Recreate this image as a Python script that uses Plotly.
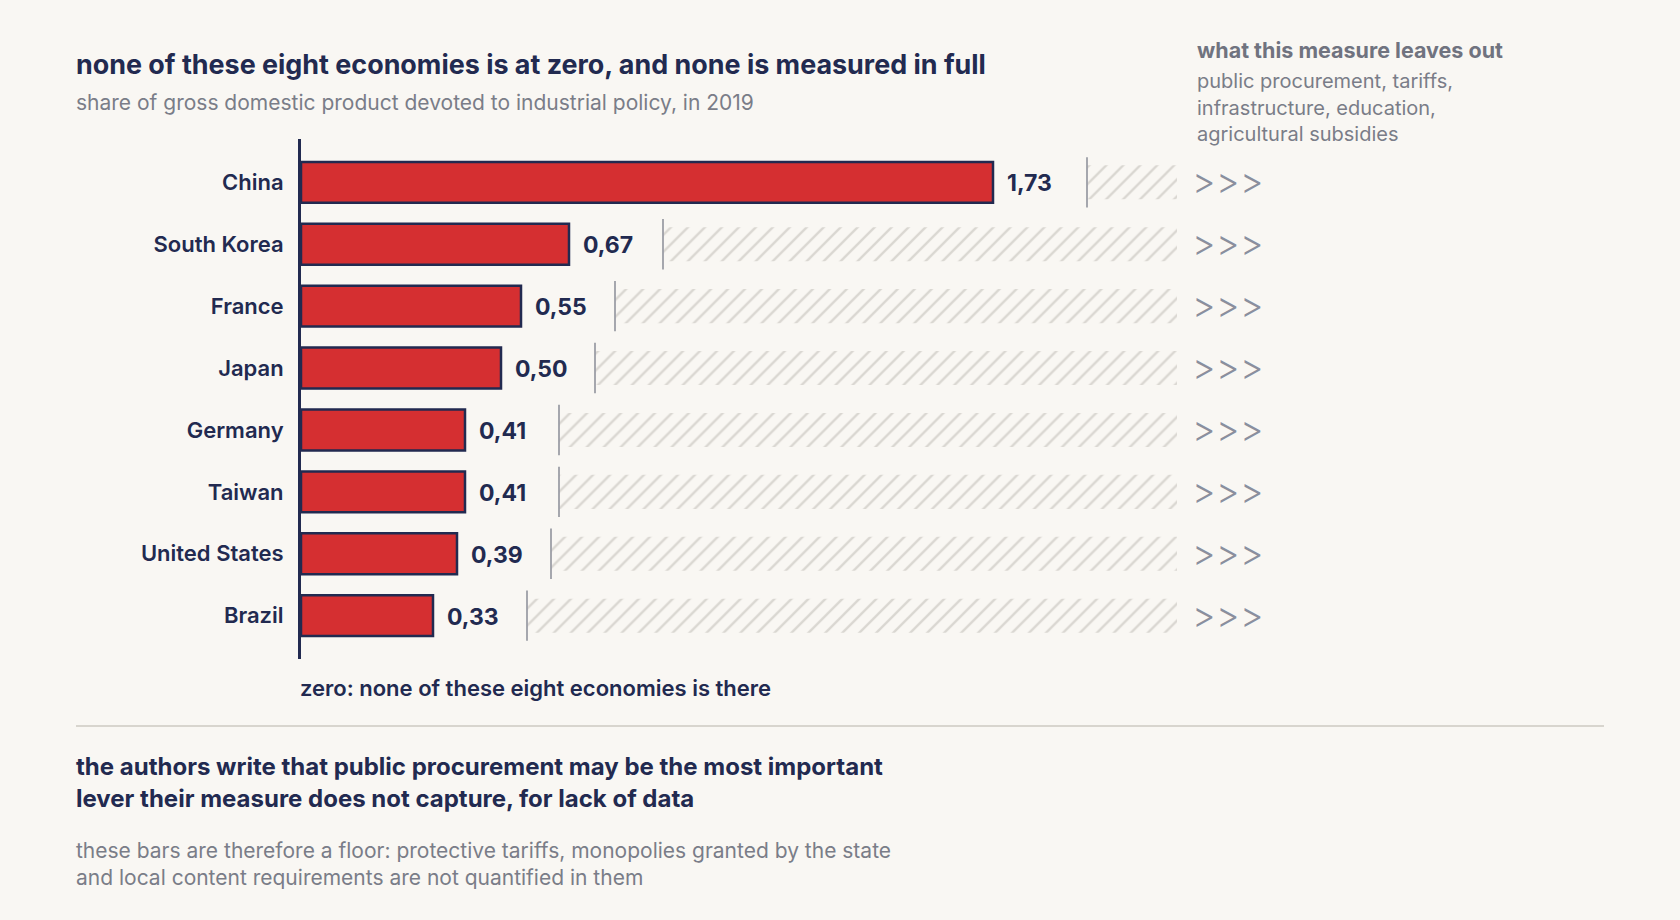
import plotly.graph_objects as go

# data
economies = ["China", "South Korea", "France", "Japan", "Germany", "Taiwan", "United States", "Brazil"]
shares = [1.73, 0.67, 0.55, 0.50, 0.41, 0.41, 0.39, 0.33]
left_out_end = 2.19  # where the "not measured" hatch stops, in % of GDP
label_gap = 0.235    # hatch starts this far after each bar
chevron_x = [2.257, 2.317, 2.377]

left_out_title = "what this measure leaves out"
left_out_items = ["public procurement, tariffs,", "infrastructure, education,", "agricultural subsidies"]

NAVY = "#222a50"
RED = "#d52f31"
BG = "#f9f7f3"
GRAY = "#7a7d88"
HATCH = "#bab7b0"
FONT = "Inter, Roboto, sans-serif"

W, H = 1680, 920
L, R, T, B = 301, 1301, 139, 659


def px(x):
    return (x - L) / (R - L)


def py(y):
    return (B - y) / (B - T)


value_labels = [f"{v:.2f}".replace(".", ",") for v in shares]
hatch_base = [v + label_gap for v in shares]
hatch_len = [left_out_end - b for b in hatch_base]

fig = go.Figure()

fig.add_trace(go.Bar(
    y=economies, x=shares, orientation="h",
    marker=dict(color=RED, line=dict(color=NAVY, width=2.5)),
    width=0.66, hoverinfo="skip",
))

fig.add_trace(go.Bar(
    y=economies, x=hatch_len, base=hatch_base, orientation="h",
    marker=dict(color="rgba(0,0,0,0)", line=dict(width=0),
                pattern=dict(shape="/", fgcolor=HATCH, bgcolor="rgba(0,0,0,0)",
                             size=12, solidity=0.2)),
    width=0.55, hoverinfo="skip",
))

fig.add_trace(go.Scatter(
    y=economies, x=hatch_base, mode="markers",
    marker=dict(symbol="line-ns", size=36, line=dict(color="#9c9ea6", width=1.8)),
    hoverinfo="skip",
))

fig.update_layout(
    width=W, height=H,
    paper_bgcolor=BG, plot_bgcolor=BG,
    margin=dict(l=L, r=W - R, t=T, b=H - B),
    barmode="overlay", showlegend=False,
    font=dict(family=FONT, color=NAVY),
)

fig.update_xaxes(range=[0, 2.5], visible=False)
fig.update_yaxes(
    range=[7.7, -0.7], showline=True, linecolor=NAVY, linewidth=3,
    showgrid=False, zeroline=False, ticks="", ticklabelstandoff=10,
    tickfont=dict(family=FONT, size=22, color=NAVY, weight=600),
)

ann = []

# value labels next to each bar end
for name, v, lab in zip(economies, shares, value_labels):
    ann.append(dict(x=v, y=name, xref="x", yref="y", text=lab, showarrow=False,
                    xanchor="left", yanchor="middle", xshift=12, yshift=-1,
                    font=dict(family=FONT, size=23, color=NAVY, weight=700)))

# ">>>" chevrons at the end of every row
for name in economies:
    for cx in chevron_x:
        ann.append(dict(x=cx, y=name, xref="x", yref="y", text=">", showarrow=False,
                        xanchor="center", yanchor="middle", yshift=1,
                        font=dict(family=FONT, size=36, color="#8a8f9e", weight=300)))


def text(x, y, s, size, color, weight=400, anchor="left"):
    ann.append(dict(x=px(x), y=py(y), xref="paper", yref="paper", text=s,
                    showarrow=False, xanchor=anchor, yanchor="middle", align="left",
                    font=dict(family=FONT, size=size, color=color, weight=weight)))


text(74, 64, "none of these eight economies is at zero, and none is measured in full", 26.9, NAVY, 700)
text(74, 102, "share of gross domestic product devoted to industrial policy, in 2019", 21, GRAY)

text(1195, 50, left_out_title, 21.5, "#70737f", 700)
for i, item in enumerate(left_out_items):
    text(1195, 81 + i * 26.5, item, 20, GRAY)

text(298, 688, "zero: none of these eight economies is there", 22, NAVY, 600)

text(74, 766, "the authors write that public procurement may be the most important", 24, NAVY, 700)
text(74, 798, "lever their measure does not capture, for lack of data", 24, NAVY, 700)
text(74, 850, "these bars are therefore a floor: protective tariffs, monopolies granted by the state", 21, GRAY)
text(74, 877, "and local content requirements are not quantified in them", 21, GRAY)

fig.update_layout(annotations=ann)

fig.add_shape(type="line", xref="paper", yref="paper",
              x0=px(76), x1=px(1604), y0=py(726), y1=py(726),
              line=dict(color="#d8d5ce", width=2))

fig.write_html(
    "out.html",
    config={"displayModeBar": False},
    post_script="document.body.style.margin='0';document.body.style.background='" + BG + "';",
)
